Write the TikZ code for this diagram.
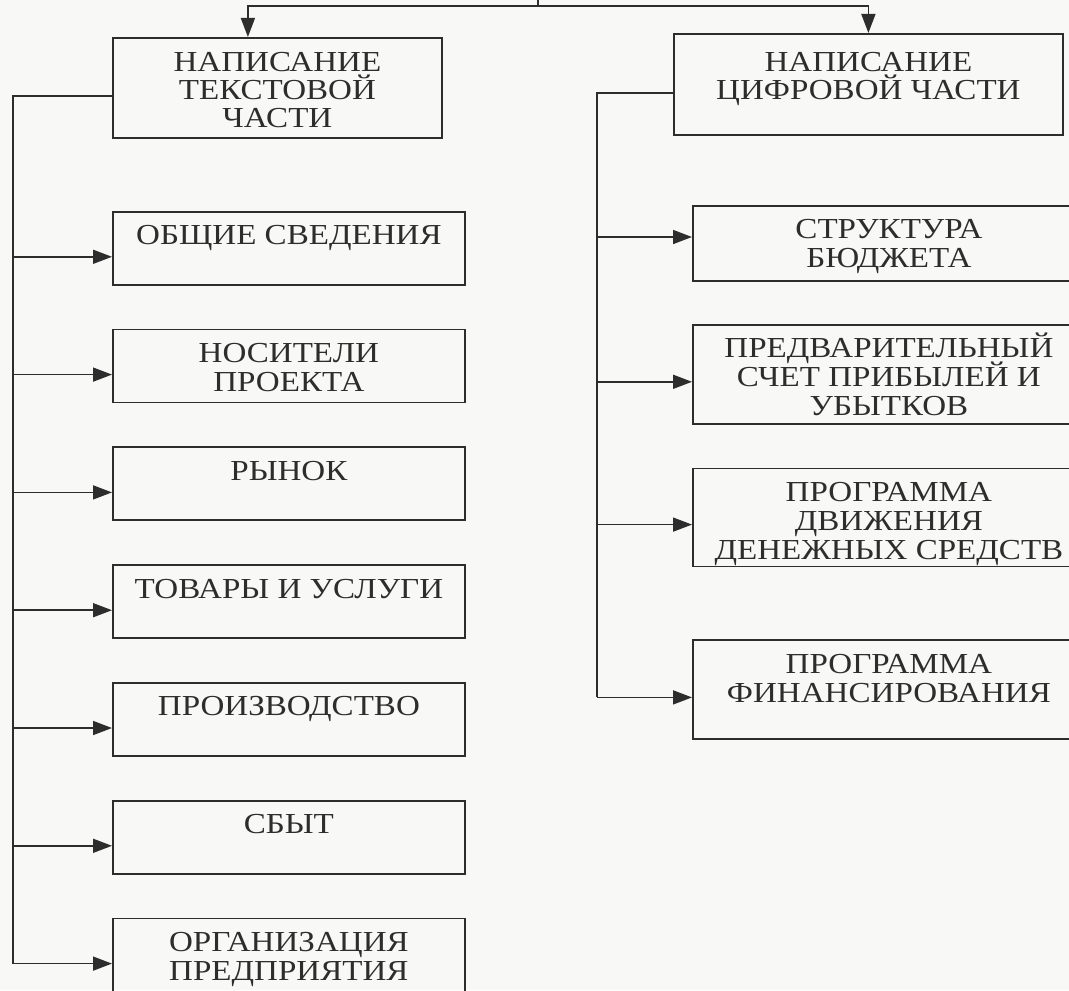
\documentclass[tikz,border=0pt]{standalone}
\usepackage{fontspec}
\setmainfont{Liberation Serif}[FakeStretch=1.14]
\usetikzlibrary{arrows.meta,positioning}
\newcommand{\rows}[2][14.5pt]{\vtop{\baselineskip=#1\relax\lineskiplimit=-20pt\relax\let\\\cr\halign{\hfil##\hfil\cr#2\crcr}}}
\definecolor{ink}{RGB}{45,45,45}
\definecolor{paper}{RGB}{248,248,246}

\begin{document}
\begin{tikzpicture}[font=\fontsize{14.5}{14.5}\selectfont, color=ink, node distance=21.5pt, box/.style={draw=ink, line width=0.9pt, inner sep=0pt, text height=16.5pt, text depth=20pt, minimum width=176pt}, rbox/.style={box, minimum width=196pt, text depth=33pt}, arr/.style={-{Triangle[length=9.5pt,width=7pt]}, line width=0.8pt}, ln/.style={line width=0.8pt}]
\useasboundingbox[fill=paper] (0,0) rectangle (534.5pt,-495pt);
\node[box, minimum width=164.5pt, text height=17pt, text depth=33pt, anchor=north west] (l0) at (56pt,-18.5pt) {\rows[14pt]{НАПИСАНИЕ\\ТЕКСТОВОЙ\\ЧАСТИ}};
\node[box, minimum width=194.5pt, text height=19pt, text depth=31.5pt, anchor=north west] (r0) at (336.5pt,-16.5pt) {\rows[14pt]{НАПИСАНИЕ\\ЦИФРОВОЙ ЧАСТИ}};
\node[box, below=36pt of l0.south west, anchor=north west] (l1) {ОБЩИЕ СВЕДЕНИЯ};
\node[box, below=of l1] (l2) {\rows{НОСИТЕЛИ\\ПРОЕКТА}};
\node[box, below=of l2] (l3) {РЫНОК};
\node[box, below=of l3] (l4) {ТОВАРЫ И УСЛУГИ};
\node[box, below=of l4] (l5) {ПРОИЗВОДСТВО};
\node[box, below=of l5] (l6) {СБЫТ};
\node[box, below=of l6, text depth=34pt] (l7) {\rows{ОРГАНИЗАЦИЯ\\ПРЕДПРИЯТИЯ}};
\node[rbox, text depth=21pt, anchor=north west] (r1) at (346pt,-102.5pt) {\rows{СТРУКТУРА\\БЮДЖЕТА}};
\node[rbox, below=21pt of r1] (r2) {\rows{ПРЕДВАРИТЕЛЬНЫЙ\\СЧЕТ ПРИБЫЛЕЙ И\\УБЫТКОВ}};
\node[rbox, below=of r2, text depth=32.5pt] (r3) {\rows{ПРОГРАММА\\ДВИЖЕНИЯ\\ДЕНЕЖНЫХ СРЕДСТВ}};
\node[rbox, below=36pt of r3] (r4) {\rows{ПРОГРАММА\\ФИНАНСИРОВАНИЯ}};
\coordinate (root) at (269pt,0);
\coordinate (fork) at (269pt,-3pt);
\coordinate (sl) at (6.5pt,0);
\coordinate (sr) at (298.5pt,0);
\draw[ln] (root) -- (fork);
\draw[arr] (fork) -| ([xshift=-14.75pt]l0.north);
\draw[arr] (fork) -| (r0.north);
\foreach \i in {1,...,7} {
  \coordinate (al\i) at ([yshift=-23pt]l\i.north west);
  \draw[arr] (sl |- al\i) -- (al\i);
}
\foreach \i/\d in {1/16pt,2/29pt,3/28.5pt,4/29pt} {
  \coordinate (ar\i) at ([yshift=-\d]r\i.north west);
  \draw[arr] (sr |- ar\i) -- (ar\i);
}
\draw[ln] ([yshift=-4pt]l0.west) -| (sl |- al7);
\draw[ln] ([yshift=-30pt]r0.north west) -| (sr |- ar4);
\end{tikzpicture}
\end{document}
